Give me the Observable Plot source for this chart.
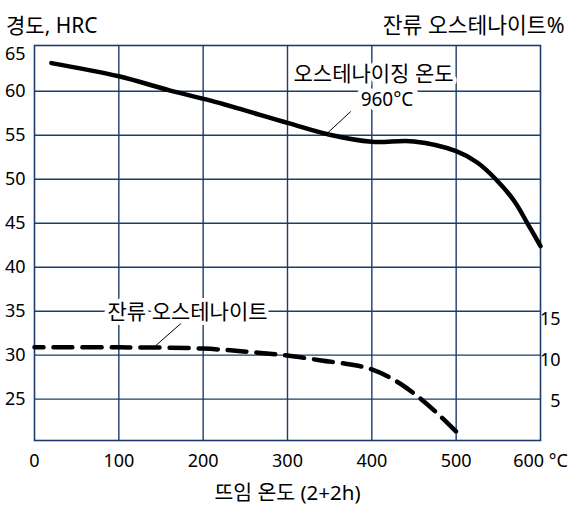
<!DOCTYPE html>
<html><head><meta charset="utf-8">
<script src="https://cdn.jsdelivr.net/npm/d3@7"></script>
<script src="https://cdn.jsdelivr.net/npm/@observablehq/plot@0.6"></script>
<style>
body{margin:0;background:#fff;}
</style></head><body><div id="chart"></div>
<script>
// Hardness (HRC) vs tempering temperature, austenitizing at 960 °C
const hardTemps  = [20, 100, 160, 210, 300, 350, 400, 450, 500, 525, 547, 569, 585, 600];
const hardValues = [63.2, 61.7, 60.1, 58.9, 56.4, 55.05, 54.25, 54.3, 53.2, 51.9, 50.0, 47.5, 44.9, 42.4];
// Retained austenite (%) vs tempering temperature
const raTemps  = [0, 100, 200, 265, 300, 340, 375, 400, 430, 455, 478, 500];
const raValues = [11.6, 11.6, 11.45, 10.95, 10.6, 10.0, 9.5, 8.9, 7.4, 5.55, 3.5, 1.3];
// Axis ticks
const xTicks  = [0, 100, 200, 300, 400, 500, 600];
const yTicks  = [25, 30, 35, 40, 45, 50, 55, 60, 65];
const raTicks = [5, 10, 15];
// Texts
const yTitle   = "경도, HRC";
const y2Title  = "잔류 오스테나이트%";
const xTitle   = "뜨임 온도 (2+2h)";
const hardNote = "오스테나이징 온도";
const tempNote = "960°C";
const raNote   = "잔류 오스테나이트";

// right axis (%) expressed on the hardness scale
const pctToH = p => 20.1 + 0.93 * p;

const hardData = hardTemps.map((t, i) => ({t, v: hardValues[i]}));
const raData = raTemps.map((t, i) => ({t, v: pctToH(raValues[i])}));

const gridColor = "#1d3c6b";
const font = "'Noto Sans', 'Noto Sans CJK KR', sans-serif";

const chart = Plot.plot({
  width: 574, height: 514,
  marginLeft: 34, marginRight: 34, marginTop: 45, marginBottom: 74,
  style: {fontFamily: font, fontSize: "18px", background: "#fff", color: "#000"},
  x: {domain: [0, 600]},
  y: {domain: [20.3, 65.2]},
  marks: [
    Plot.gridX(xTicks.slice(1, -1), {stroke: gridColor, strokeOpacity: 1, strokeWidth: 1.4}),
    Plot.gridY(yTicks.slice(0, -1), {stroke: gridColor, strokeOpacity: 1, strokeWidth: 1.4}),
    Plot.frame({stroke: gridColor, strokeWidth: 1.6}),
    Plot.axisX(xTicks, {tickSize: 0, tickPadding: 14, label: null, fontSize: 18,
      tickFormat: d => d === 600 ? "600 °C" : String(d)}),
    Plot.axisY(yTicks.filter(d => d < 65), {tickSize: 0, tickPadding: 9, label: null, fontSize: 18}),
    Plot.axisY(yTicks.filter(d => d >= 65), {tickSize: 0, tickPadding: 9, label: null, fontSize: 18, dy: 7}),
    Plot.text(raTicks, {y: d => pctToH(d), text: d => String(d), frameAnchor: "right", dx: 20, fontSize: 18}),
    Plot.line(hardData, {x: "t", y: "v", curve: "catmull-rom", stroke: "#000", strokeWidth: 4.5}),
    Plot.line(raData, {x: "t", y: "v", curve: "catmull-rom", stroke: "#000", strokeWidth: 4.5,
      strokeDasharray: "19,10", strokeDashoffset: 10}),
    Plot.text([hardNote], {x: 402, y: 61.9, fontSize: 21, stroke: "white", strokeWidth: 8, fill: "#000"}),
    Plot.text([tempNote], {x: 418, y: 58.97, fontSize: 19, stroke: "white", strokeWidth: 10, fill: "#000"}),
    Plot.text([raNote], {x: 181.5, y: 34.9, fontSize: 21, stroke: "white", strokeWidth: 8, fill: "#000"}),
    Plot.link([0], {x1: 375, y1: 57.7, x2: 345.7, y2: 55.1, stroke: "#000", strokeWidth: 1}),
    Plot.link([0], {x1: 173.6, y1: 33.6, x2: 143.9, y2: 31.1, stroke: "#000", strokeWidth: 1}),
    Plot.text([yTitle], {frameAnchor: "top-left", dx: -28.5, dy: -27.5, textAnchor: "start", fontSize: 21}),
    Plot.text([y2Title], {frameAnchor: "top-right", dx: 24, dy: -27.5, textAnchor: "end", fontSize: 21.5}),
    Plot.text([xTitle], {frameAnchor: "bottom", dy: 59, fontSize: 20.5})
  ]
});
document.getElementById("chart").append(chart);
</script>
</body></html>
